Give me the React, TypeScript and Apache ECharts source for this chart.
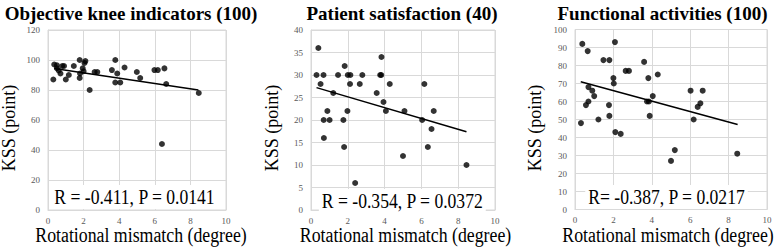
import React, { useEffect, useRef } from "react";
import * as echarts from "echarts";

const titles = ["Objective knee indicators (100)", "Patient satisfaction (40)", "Functional activities (100)"];
const stats = ["R = -0.411, P = 0.0141", "R = -0.354, P = 0.0372", "R= -0.387, P = 0.0217"];
const xName = "Rotational mismatch (degree)";
const yName = "KSS (point)";

const objective: [number, number][] = [
  [0.3, 87], [0.35, 97], [0.5, 96.5], [0.8, 96], [0.9, 96], [0.5, 94.5], [0.6, 93], [0.7, 91],
  [1.0, 87], [1.17, 90], [1.45, 96], [1.78, 100], [1.78, 88], [1.8, 91], [1.95, 94.5], [2.05, 98],
  [2.1, 99.3], [2.0, 92.5], [2.34, 80], [2.62, 92], [2.77, 92], [3.59, 93.3], [3.78, 100], [3.78, 85],
  [3.89, 91], [4.06, 85], [4.3, 95], [4.99, 92], [5.18, 88], [5.98, 93.3], [6.17, 93.3], [6.54, 94.4],
  [6.64, 84], [8.47, 78], [6.4, 44],
];
const satisfaction: [number, number][] = [
  [0.4, 36], [0.3, 30], [0.68, 30], [0.52, 28], [1.21, 26], [1.47, 30], [1.83, 32], [2.0, 30],
  [2.14, 30], [2.12, 28], [2.65, 28], [2.79, 30], [3.57, 26], [3.83, 34], [3.76, 30], [3.82, 30],
  [3.94, 24], [4.07, 22], [4.28, 28], [5.08, 22], [6.04, 20], [6.16, 28], [6.67, 22], [0.89, 22],
  [0.69, 20], [1.01, 20], [1.76, 20], [1.98, 22], [6.55, 18], [0.7, 16], [1.8, 14], [2.4, 6],
  [5.0, 12], [6.35, 14], [8.45, 10],
];
const functional: [number, number][] = [
  [0.38, 92], [0.66, 88], [1.48, 83], [1.79, 83], [2.08, 93], [2.0, 73], [2.02, 70], [2.64, 77],
  [2.81, 77], [3.6, 82], [3.82, 73], [4.31, 75], [3.75, 60], [3.85, 60], [4.05, 63], [3.89, 52],
  [6.02, 66], [6.65, 66], [6.53, 59], [6.39, 57], [6.18, 50], [0.7, 68], [0.9, 66], [1.0, 63],
  [0.7, 60], [0.57, 58], [1.22, 50], [1.79, 52], [1.77, 58], [0.31, 48], [2.1, 43], [2.38, 42],
  [5.0, 27], [5.2, 33], [8.45, 31],
];
const trendObjective: [number, number][] = [[0.35, 94.4], [8.45, 80]];
const trendSatisfaction: [number, number][] = [[0.3, 27.2], [8.45, 17.4]];
const trendFunctional: [number, number][] = [[0.3, 71], [8.47, 47.2]];

const yMax = [120, 40, 100];
const yStep = [20, 5, 10];

export default function App() {
  const ref = useRef<HTMLDivElement>(null);
  useEffect(() => {
    if (!ref.current) return;
    const chart = echarts.init(ref.current, undefined, { renderer: "svg" });
    const serif = "Liberation Serif, Times New Roman, serif";
    const grids = [
      { left: 48, top: 30, width: 178, height: 180 },
      { left: 311, top: 30, width: 184, height: 180 },
      { left: 575, top: 29.5, width: 192, height: 180 },
    ];
    const datasets = [objective, satisfaction, functional];
    const trends = [trendObjective, trendSatisfaction, trendFunctional];
    const gridLine = { lineStyle: { color: "#d9d9d9", width: 1 } };
    const tickLabel = { color: "#595959", fontSize: 9, fontFamily: serif };
    const titleCx = [131, 402, 662.5];
    const xNameCx = [141, 405.5, 668];
    const yNameCx = [9, 272, 535];
    const statCx = [134.5, 402.3, 666.5];
    const statCy = [197, 201, 197];
    const graphic: any[] = [];
    const txt = (x: number, y: number, text: string, size: number, weight: string, extra: any = {}, rot = 0, sx = 1) => ({
      type: "text", x, y, rotation: rot, scaleX: sx, z: 100,
      style: {
        text, textAlign: "center", textVerticalAlign: "middle", fill: "#000",
        fontFamily: serif, fontSize: size, fontWeight: weight, ...extra,
      },
    });
    for (let i = 0; i < 3; i++) {
      graphic.push(txt(titleCx[i], 13, titles[i], 19, "bold"));
      graphic.push(txt(xNameCx[i], 235, xName, 20, "normal", {}, 0, 0.89));
      graphic.push(txt(yNameCx[i], 128, yName, 18, "normal", {}, Math.PI / 2));
      graphic.push(txt(statCx[i], statCy[i], stats[i], 20, "normal", { backgroundColor: "#fff", padding: [2, 3, 2, 3] }, 0, 0.88));
    }
    chart.setOption({
      animation: false,
      backgroundColor: "#fff",
      textStyle: { fontFamily: serif },
      grid: grids.map((g) => ({ ...g, show: true, borderColor: "#d9d9d9", borderWidth: 1, containLabel: false })),
      xAxis: [0, 1, 2].map((i) => ({
        type: "value", gridIndex: i, min: 0, max: 10, interval: 2,
        axisLine: { show: true, lineStyle: { color: "#d9d9d9" } }, axisTick: { show: false },
        axisLabel: { ...tickLabel, margin: 6 }, splitLine: { show: true, ...gridLine },
      })),
      yAxis: [0, 1, 2].map((i) => ({
        type: "value", gridIndex: i, min: 0, max: yMax[i], interval: yStep[i],
        axisLine: { show: true, lineStyle: { color: "#d9d9d9" } }, axisTick: { show: false },
        axisLabel: { ...tickLabel, margin: 8 }, splitLine: { show: true, ...gridLine },
      })),
      series: [
        ...datasets.map((d, i) => ({
          type: "scatter", xAxisIndex: i, yAxisIndex: i, data: d, symbolSize: 6,
          itemStyle: { color: "#000" },
        })),
        ...trends.map((t, i) => ({
          type: "line", xAxisIndex: i, yAxisIndex: i, data: t, symbol: "none",
          lineStyle: { color: "#000", width: 1.5 },
        })),
      ],
      graphic,
    });
    return () => chart.dispose();
  }, []);
  return <div ref={ref} style={{ position: "fixed", left: 0, top: 0, width: 777, height: 247 }} />;
}
